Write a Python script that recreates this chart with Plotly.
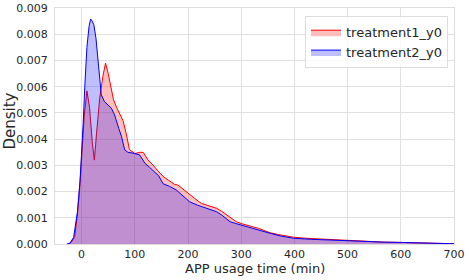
import plotly.graph_objects as go

# treatment1_y0 (red)
t1_x = [-25, -20, -13, -7, -3, 0, 5, 10, 15, 20, 24, 28, 34, 40, 45, 50, 55, 60, 66, 72, 78, 84, 90,
        100, 110, 116, 125, 134, 145, 155, 166, 175, 181, 190, 203, 215, 225, 240, 254, 263, 272, 282,
        291, 300, 310, 320, 332, 345, 354, 370, 385, 398, 420, 440, 461, 480, 505, 540, 570, 600, 630,
        660, 700]
t1_y = [0, 0.05, 0.28, 1.3, 2.3, 3.3, 4.9, 5.84, 5.2, 3.9, 3.2, 4.2, 5.56, 6.4, 6.9, 6.5, 6.0, 5.5,
        5.2, 4.95, 4.7, 4.2, 3.6, 3.45, 3.5, 3.49, 3.2, 3.02, 2.75, 2.55, 2.38, 2.27, 2.25, 2.1, 1.87,
        1.7, 1.55, 1.45, 1.36, 1.25, 1.11, 0.97, 0.85, 0.78, 0.73, 0.66, 0.6, 0.5, 0.43, 0.36, 0.3,
        0.26, 0.22, 0.2, 0.18, 0.15, 0.11, 0.09, 0.07, 0.06, 0.05, 0.03, 0.01]

# treatment2_y0 (blue)
t2_x = [-28, -22, -15, -8, -3, 0, 3, 6, 10, 14, 17, 20, 23, 27, 31, 37, 43, 50, 56, 62, 65, 70, 75,
        81, 87, 93, 100, 109, 114, 119, 128, 137, 145, 153, 165, 178, 190, 203, 218, 235, 245, 254,
        265, 279, 290, 298, 310, 322, 335, 354, 375, 398, 430, 461, 500, 536, 570, 599, 640, 700]
t2_y = [0, 0.03, 0.25, 1.2, 2.4, 3.4, 4.6, 6.0, 7.5, 8.3, 8.58, 8.5, 8.36, 7.85, 6.96, 5.69, 5.43,
        5.3, 5.18, 4.92, 4.7, 4.4, 4.1, 3.59, 3.5, 3.49, 3.45, 3.40, 3.25, 3.08, 2.92, 2.76, 2.6, 2.3,
        2.2, 2.06, 1.85, 1.61, 1.48, 1.36, 1.3, 1.23, 1.08, 0.85, 0.78, 0.73, 0.66, 0.6, 0.5, 0.41,
        0.3, 0.22, 0.18, 0.15, 0.11, 0.09, 0.07, 0.06, 0.04, 0.01]

x_ticks = [0, 100, 200, 300, 400, 500, 600, 700]
y_ticks = [0.000, 0.001, 0.002, 0.003, 0.004, 0.005, 0.006, 0.007, 0.008, 0.009]
x_title = "APP usage time (min)"
y_title = "Density"

FONT = "DejaVu Sans"

fig = go.Figure()
fig.add_trace(go.Scatter(
    x=t1_x, y=[v / 1000 for v in t1_y], name="treatment1_y0", mode="lines",
    line=dict(color="red", width=1), fill="tozeroy", fillcolor="rgba(255,0,0,0.25)"))
fig.add_trace(go.Scatter(
    x=t2_x, y=[v / 1000 for v in t2_y], name="treatment2_y0", mode="lines",
    line=dict(color="blue", width=1), fill="tozeroy", fillcolor="rgba(0,0,255,0.25)"))

fig.update_layout(
    width=469, height=280,
    margin=dict(l=55, r=15, t=8, b=36, autoexpand=False),
    paper_bgcolor="white", plot_bgcolor="white",
    font=dict(family=FONT, size=11, color="#262626"),
    legend=dict(x=0.985, y=0.965, xanchor="right", yanchor="top",
                bgcolor="rgba(255,255,255,0.8)", bordercolor="#dddddd", borderwidth=1,
                font=dict(size=13, family=FONT, color="#262626"), tracegroupgap=0),
    showlegend=True,
    annotations=[
        dict(text=x_title, xref="paper", yref="paper", x=0.5, y=-0.102,
             xanchor="center", yanchor="middle", showarrow=False,
             font=dict(size=13, family=FONT, color="#262626")),
        dict(text=y_title, xref="paper", yref="paper", x=-0.1115, y=0.521, textangle=-90,
             xanchor="center", yanchor="middle", showarrow=False,
             font=dict(size=15, family=FONT, color="#262626")),
    ],
)
fig.update_xaxes(
    range=[-50, 700], tickvals=x_ticks, showgrid=True, gridcolor="#e0e0e0", gridwidth=1,
    zeroline=False, showline=True, linecolor="#dddddd", mirror=True, ticks="",
    tickfont=dict(size=11), ticklabelstandoff=0, automargin=False)
fig.update_yaxes(
    range=[0, 0.009], tickvals=y_ticks, tickformat=".3f", showgrid=True, gridcolor="#e0e0e0",
    gridwidth=1, zeroline=False, showline=True, linecolor="#dddddd", mirror=True, ticks="",
    tickfont=dict(size=11), ticklabelstandoff=4, automargin=False)

fig.write_html("out.html", config={"displayModeBar": False},
               post_script="document.body.style.margin='0';")
